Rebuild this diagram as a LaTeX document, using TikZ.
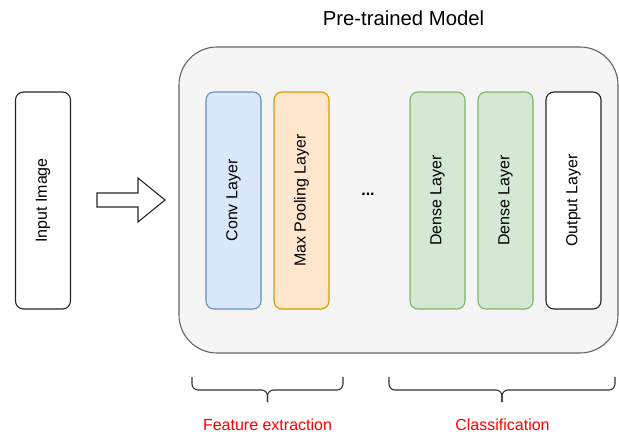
\documentclass[tikz,border=0pt]{standalone}
\usepackage{fontspec}
\setmainfont{Liberation Sans}
\definecolor{convfill}{HTML}{DAE8FC}
\definecolor{convdraw}{HTML}{6C8EBF}
\definecolor{poolfill}{HTML}{FFE6CC}
\definecolor{pooldraw}{HTML}{D79B00}
\definecolor{densefill}{HTML}{D5E8D4}
\definecolor{densedraw}{HTML}{82B366}
\definecolor{modelfill}{HTML}{F5F5F5}
\definecolor{modeldraw}{HTML}{666666}
\definecolor{labelred}{HTML}{FF0000}
\begin{document}
\begin{tikzpicture}[x=1pt,y=1pt,
  layer/.style={draw, line width=1.1pt, rounded corners=8pt, minimum width=55pt, minimum height=217pt, inner sep=0pt},
  vlabel/.style={rotate=90, font=\fontsize{16}{18}\selectfont},
  bracestyle/.style={draw=black!80, line width=1.1pt, rounded corners=6pt},
  redlabel/.style={text=labelred, font=\fontsize{16}{18}\selectfont}
]
\useasboundingbox (0,0) rectangle (619,437);
% pre-trained model container
\node[draw=modeldraw, fill=modelfill, line width=1.1pt, rounded corners=38pt,
      minimum width=439pt, minimum height=306pt, inner sep=0pt] (model) at (398.5,237) {};
\node[font=\fontsize{20.3}{22}\selectfont] (title) at (403.5,419) {Pre-trained Model};
% input
\node[layer, draw=black!85, fill=white] (input) at (43,236.5) {};
\node[vlabel] at (input.center) {Input Image};
% layers
\node[layer, draw=convdraw, fill=convfill] (conv) at (233.5,236.5) {};
\node[vlabel] at (conv.center) {Conv Layer};
\node[layer, draw=pooldraw, fill=poolfill] (pool) at (301.5,236.5) {};
\node[vlabel] at (pool.center) {Max Pooling Layer};
\node[font=\fontsize{16}{18}\selectfont\bfseries] (dots) at (368,243) {...};
\node[layer, draw=densedraw, fill=densefill] (dense1) at (437.5,236.5) {};
\node[vlabel] at (dense1.center) {Dense Layer};
\node[layer, draw=densedraw, fill=densefill] (dense2) at (505.5,236.5) {};
\node[vlabel] at (dense2.center) {Dense Layer};
\node[layer, draw=black!85, fill=white] (output) at (573.5,236.5) {};
\node[vlabel] at (output.center) {Output Layer};
% block arrow
\coordinate (a1) at (97,244);
\draw[line width=1.1pt, draw=black!85, fill=white, line join=miter]
  (a1) -- (138,244) -- (138,259) -- (165,237) -- (138,215) -- (138,230) -- (97,230) -- cycle;
% braces
\coordinate (b1l) at (192,60);
\coordinate (b1r) at (343,60);
\coordinate (b1m) at (267.5,35);
\coordinate (b2l) at (389,60);
\coordinate (b2r) at (615,60);
\coordinate (b2m) at (502,35);
\draw[bracestyle] (b1l) -- (b1l |- 0,47) -- (b1m |- 0,47) -- (b1m);
\draw[bracestyle] (b1r) -- (b1r |- 0,47) -- (b1m |- 0,47) -- (b1m);
\draw[bracestyle] (b2l) -- (b2l |- 0,47) -- (b2m |- 0,47) -- (b2m);
\draw[bracestyle] (b2r) -- (b2r |- 0,47) -- (b2m |- 0,47) -- (b2m);
\node[redlabel] (fe) at (267.5,12) {Feature extraction};
\node[redlabel] (cls) at (502.5,12) {Classification};
\end{tikzpicture}
\end{document}
